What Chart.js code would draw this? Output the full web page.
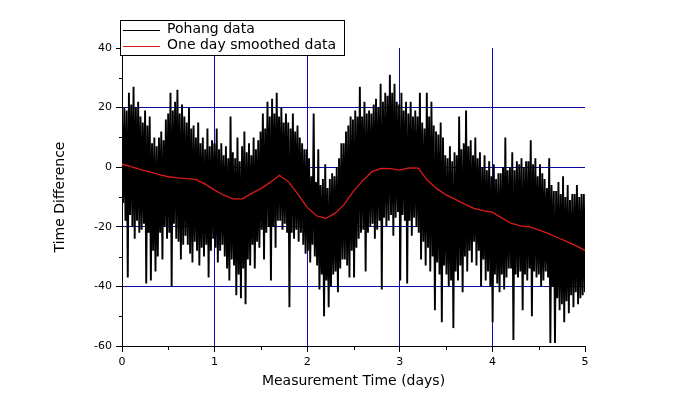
<!DOCTYPE html>
<html>
<head>
<meta charset="utf-8">
<script src="https://cdn.jsdelivr.net/npm/chart.js@4.4.0/dist/chart.umd.min.js"></script>
<style>
html, body { margin: 0; padding: 0; background: #fff; }
#chart { display: block; }
</style>
</head>
<body>
<canvas id="chart" width="681" height="415"></canvas>
<script>
// Pohang data: read off the picture as upper / lower swing of the trace,
// one pair every 0.025 day from 0 to 5 days
const upperSwing = [
    17, 20, 19, 25,  21, 27, 20, 22,  17, 15, 19, 14,  17, 8, 10, 7,  10, 12, 9, 16,
    18, 25, 19, 22,  26, 18, 21, 17,  15, 20, 13, 14,  10, 15, 8, 10,  6, 13, 7, 9,
    8, 13, 6, 8,  4, 7, 3, 17,  5, 3, 10, 2,  7, 12, 5, 8,  4, 10, 6, 9,
    12, 18, 13, 22,  17, 23, 18, 25,  17, 20, 15, 18,  15, 13, 18, 12,  14, 10, 8, 6,
    6, 3, -3, 18,  -5, 6, -6, -4,  1, -7, -4, -2,  -3, 0, 3, 8,  8, 12, 14, 17,
    16, 19, 17, 27,  17, 22, 18, 19,  18, 21, 23, 20,  28, 22, 25, 24,  31, 25, 28, 22,
    21, 25, 19, 22,  18, 22, 17, 19,  17, 25, 15, 13,  25, 17, 22, 14,  12, 11, 15, 10,
    4, 3, 7, 2,  5, 4, 17, 6,  8, 19, 7, 9,  4, 10, 3, 5,  0, 4, -1, 2,
    -3, 1, -4, -2,  -2, 0, 10, -1,  0, 5, -1, 2,  1, 3, 0, 2,  2, 9, 1, 3,
    -3, 1, -2, -4,  -7, 3, -6, -8,  -8, -5, -9, -3,  -10, -6, -11, -9,  -9, -6, -10, -9,
    -9
];
const lowerSwing = [
    -12, -18, -37, -16,  -20, -24, -18, -22,  -21, -19, -39, -22,  -38, -28, -35, -30,  -22, -31, -20, -24,
    -22, -40, -19, -24,  -25, -31, -26, -23,  -26, -29, -32, -25,  -28, -33, -27, -30,  -26, -37, -28, -24,
    -27, -32, -28, -26,  -30, -34, -38, -31,  -33, -43, -36, -44,  -34, -46, -31, -33,  -26, -34, -25, -27,
    -21, -31, -22, -20,  -38, -20, -27, -18,  -18, -21, -19, -22,  -47, -22, -24, -21,  -25, -22, -26, -29,
    -28, -32, -26, -30,  -33, -41, -36, -50,  -38, -47, -40, -36,  -35, -42, -34, -31,  -31, -33, -37, -28,
    -37, -27, -24, -22,  -21, -35, -22, -20,  -19, -24, -21, -18,  -41, -17, -20, -18,  -16, -23, -17, -15,
    -38, -16, -18, -39,  -18, -23, -17, -20,  -22, -31, -25, -33,  -27, -35, -30, -48,  -32, -36, -52, -33,
    -36, -40, -38, -54,  -35, -38, -33, -42,  -30, -35, -28, -32,  -25, -33, -28, -40,  -31, -38, -35, -40,
    -52, -36, -39, -42,  -36, -41, -37, -34,  -34, -58, -36, -37,  -35, -48, -36, -38,  -34, -50, -35, -37,
    -36, -40, -38, -35,  -37, -59, -40, -59,  -44, -48, -46, -52,  -45, -49, -43, -47,  -42, -46, -44, -43,
    -42
];

// One day smoothed data, every 0.1 day
const smoothedDiff = [
    1.0, 0.2, -0.8, -1.6, -2.5, -3.2, -3.6, -3.8, -4.2, -5.7,
    -7.7, -9.4, -10.6, -10.6, -8.8, -7.2, -5.1, -2.7, -5.0, -9.0,
    -13.5, -16.3, -17.2, -15.5, -12.5, -8.0, -4.5, -1.5, -0.4, -0.5,
    -1.0, -0.2, -0.3, -4.5, -7.2, -9.3, -10.8, -12.4, -13.8, -14.6,
    -15.1, -17.0, -18.8, -19.7, -20.0, -21.0, -22.2, -23.6, -24.9, -26.3,
    -27.9
];

const xTicks = [0, 1, 2, 3, 4, 5];
const yTicks = [-60, -40, -20, 0, 20, 40];

const gridBlue = '#0a0aa8';
const font = 'DejaVu Sans';

// interleave the swings into one trace, evenly spaced over the 5 days
const raw = [];
upperSwing.forEach((v, i) => { raw.push(v, lowerSwing[i]); });
const rawPoints = raw.map((v, i) => ({ x: i * 5 / (raw.length - 1), y: v }));
const smoothPoints = smoothedDiff.map((v, i) => ({ x: i * 0.1, y: v }));

// short outward ticks for the unlabelled steps
const minorTicks = {
    id: 'minorTicks',
    afterDraw(chart) {
        const { ctx, scales: { x, y } } = chart;
        ctx.save();
        ctx.strokeStyle = '#000';
        ctx.lineWidth = 1;
        ctx.beginPath();
        x.ticks.forEach(t => {
            if (xTicks.includes(t.value)) return;
            const px = Math.round(x.getPixelForValue(t.value)) + 0.5;
            ctx.moveTo(px, y.bottom);
            ctx.lineTo(px, y.bottom + 4);
        });
        y.ticks.forEach(t => {
            if (yTicks.includes(t.value)) return;
            const py = Math.round(y.getPixelForValue(t.value)) + 0.5;
            ctx.moveTo(x.left, py);
            ctx.lineTo(x.left - 3, py);
        });
        ctx.stroke();
        ctx.restore();
    }
};

// legend box drawn in the top-left corner, like the original
const boxLegend = {
    id: 'boxLegend',
    afterDraw(chart) {
        const ctx = chart.ctx;
        const sets = chart.data.datasets;
        ctx.save();
        ctx.font = '14px "' + font + '"';
        let w = 0;
        sets.forEach(ds => { w = Math.max(w, ctx.measureText(ds.label).width); });
        const x0 = 120.5, y0 = 20.5, rowH = 16;
        const textX = 167;
        const boxW = Math.round(textX + w + 8 - x0);
        ctx.fillStyle = '#fff';
        ctx.fillRect(x0, y0, boxW, rowH * sets.length + 3);
        ctx.strokeStyle = '#000';
        ctx.lineWidth = 1;
        ctx.strokeRect(x0, y0, boxW, rowH * sets.length + 3);
        ctx.textBaseline = 'middle';
        sets.forEach((ds, i) => {
            const cy = y0 + 9 + i * rowH;
            ctx.strokeStyle = ds.borderColor;
            ctx.beginPath();
            ctx.moveTo(123, Math.round(cy) + 0.5);
            ctx.lineTo(160, Math.round(cy) + 0.5);
            ctx.stroke();
            ctx.fillStyle = '#000';
            ctx.fillText(ds.label, textX, cy);
        });
        ctx.restore();
    }
};

new Chart(document.getElementById('chart'), {
    type: 'line',
    data: {
        datasets: [
            {
                label: 'Pohang data',
                data: rawPoints,
                borderColor: '#000000',
                borderWidth: 1.9,
                pointRadius: 0,
                tension: 0,
                order: 1
            },
            {
                label: 'One day smoothed data',
                data: smoothPoints,
                borderColor: '#dd1a1a',
                borderWidth: 1.3,
                pointRadius: 0,
                tension: 0,
                order: 0
            }
        ]
    },
    options: {
        responsive: false,
        animation: false,
        devicePixelRatio: 1,
        layout: { padding: { top: 48, right: 96, bottom: 0, left: 0 } },
        plugins: {
            legend: { display: false },
            tooltip: { enabled: false }
        },
        scales: {
            x: {
                type: 'linear',
                min: 0,
                max: 5,
                afterFit: s => { s.height = 69; },
                ticks: {
                    stepSize: 0.5,
                    autoSkip: false,
                    maxRotation: 0,
                    padding: 4,
                    color: '#000',
                    font: { family: font, size: 11 },
                    callback: v => xTicks.includes(v) ? String(v) : ''
                },
                grid: {
                    color: c => (xTicks.includes(c.tick.value) && c.tick.value > 0 && c.tick.value < 5) ? gridBlue : 'rgba(0,0,0,0)',
                    tickColor: c => xTicks.includes(c.tick.value) ? '#000' : 'rgba(0,0,0,0)',
                    tickLength: 6
                },
                border: { display: true, color: '#000', width: 1 },
                title: {
                    display: true,
                    text: 'Measurement Time (days)',
                    color: '#000',
                    font: { family: font, size: 14 },
                    padding: { top: 0, bottom: 25 }
                }
            },
            y: {
                min: -60,
                max: 40,
                afterFit: s => { s.width = 122; },
                ticks: {
                    stepSize: 10,
                    autoSkip: false,
                    padding: 4,
                    color: '#000',
                    font: { family: font, size: 11 },
                    callback: v => yTicks.includes(v) ? String(v) : ''
                },
                grid: {
                    color: c => (yTicks.includes(c.tick.value) && c.tick.value > -60 && c.tick.value < 40) ? gridBlue : 'rgba(0,0,0,0)',
                    tickColor: c => yTicks.includes(c.tick.value) ? '#000' : 'rgba(0,0,0,0)',
                    tickLength: 6
                },
                border: { display: true, color: '#000', width: 1 },
                title: {
                    display: true,
                    text: 'Time Difference',
                    color: '#000',
                    font: { family: font, size: 14 },
                    padding: { top: 52, bottom: 0 }
                }
            }
        }
    },
    plugins: [minorTicks, boxLegend]
});
</script>
</body>
</html>
